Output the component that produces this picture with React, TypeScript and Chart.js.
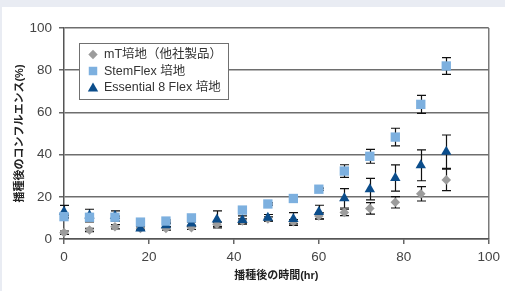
import React, { useEffect, useRef } from 'react';
import { Chart, registerables } from 'chart.js';

Chart.register(...registerables);

const times = [0, 6, 12, 18, 24, 30, 36, 42, 48, 54, 60, 66, 72, 78, 84, 90];
const mtValues = [3.0, 4.3, 5.8, 5.0, 5.0, 5.3, 7.0, 8.5, 9.5, 8.2, 10.9, 12.6, 14.5, 17.4, 21.4, 28.0];
const mtErrors = [0.8, 0.8, 1.0, 0.8, 0.8, 0.8, 1.0, 1.0, 1.0, 1.0, 1.5, 1.5, 2.7, 2.7, 3.4, 5.1];
const stemValues = [10.6, 10.3, 10.3, 8.0, 8.5, 10.0, null, 13.7, 16.6, 19.2, 23.6, 32.2, 39.2, 48.3, 63.8, 82.0];
const stemErrors = [0.5, 0.5, 0.5, 0.5, 0.5, 0.5, 0, 0.5, 0.5, 0.5, 0.5, 3.0, 3.3, 4.2, 4.3, 4.0];
const e8Values = [12.9, 11.1, 10.9, 5.0, 6.5, 7.3, 9.3, 9.0, 10.1, 9.5, 12.8, 19.3, 23.6, 28.9, 34.9, 41.4];
const e8Errors = [3.0, 3.0, 2.4, 0.8, 0.8, 0.8, 4.0, 2.0, 1.5, 3.0, 3.2, 4.6, 5.1, 6.2, 7.3, 7.9];
const seriesLabels = ['mT培地（他社製品）', 'StemFlex 培地', 'Essential 8 Flex 培地'];
const seriesColors = ['#9c9c9c', '#7db0df', '#0b4d8b'];
const xTitle = '播種後の時間(hr)';
const yTitle = '播種後のコンフルエンス(%)';

const FONT = '"Liberation Sans", "Noto Sans CJK JP", Arial, sans-serif';

function toPoints(vals: (number | null)[]) {
  return times.map((t, i) => ({ x: t, y: vals[i] }));
}

function markerPath(ctx: CanvasRenderingContext2D, style: string, x: number, y: number, r: number) {
  ctx.beginPath();
  if (style === 'rectRot') {
    ctx.moveTo(x, y - r);
    ctx.lineTo(x + r, y);
    ctx.lineTo(x, y + r);
    ctx.lineTo(x - r, y);
  } else if (style === 'rect') {
    const s = r * Math.SQRT1_2;
    ctx.rect(x - s, y - s, 2 * s, 2 * s);
  } else {
    ctx.moveTo(x, y - r);
    ctx.lineTo(x + r * Math.sin(Math.PI * 2 / 3), y - r * Math.cos(Math.PI * 2 / 3));
    ctx.lineTo(x - r * Math.sin(Math.PI * 2 / 3), y - r * Math.cos(Math.PI * 2 / 3));
  }
  ctx.closePath();
}

const errorBarPlugin = {
  id: 'errorBars',
  beforeDatasetsDraw(chart: any) {
    const ctx = chart.ctx as CanvasRenderingContext2D;
    const yScale = chart.scales.y;
    ctx.save();
    ctx.strokeStyle = '#111';
    ctx.lineWidth = 1.2;
    chart.data.datasets.forEach((ds: any, i: number) => {
      const meta = chart.getDatasetMeta(i);
      const errs: number[] = ds.errors || [];
      meta.data.forEach((el: any, j: number) => {
        const v = ds.data[j].y;
        const e = errs[j];
        if (v == null || !e) return;
        const x = Math.round(el.x) + 0.5;
        const top = yScale.getPixelForValue(v + e);
        const bot = yScale.getPixelForValue(v - e);
        ctx.beginPath();
        ctx.moveTo(x, top);
        ctx.lineTo(x, bot);
        ctx.moveTo(x - 4.5, top);
        ctx.lineTo(x + 4.5, top);
        ctx.moveTo(x - 4.5, bot);
        ctx.lineTo(x + 4.5, bot);
        ctx.stroke();
      });
    });
    ctx.restore();
  },
};

const legendPlugin = {
  id: 'boxLegend',
  afterDraw(chart: any) {
    const ctx = chart.ctx as CanvasRenderingContext2D;
    const bx = 79.5, by = 43.5, bw = 149, bh = 56;
    ctx.save();
    ctx.fillStyle = '#ffffff';
    ctx.fillRect(bx, by, bw, bh);
    ctx.strokeStyle = '#707070';
    ctx.lineWidth = 1;
    ctx.strokeRect(bx, by, bw, bh);
    const rows = [54.5, 71, 87.5];
    const styles = ['rectRot', 'rect', 'triangle'];
    const radii = [4.7, 6, 6];
    ctx.font = '12.5px ' + FONT;
    ctx.textBaseline = 'middle';
    ctx.textAlign = 'left';
    rows.forEach((ry, i) => {
      ctx.fillStyle = seriesColors[i];
      markerPath(ctx, styles[i], 93, i === 2 ? ry + 1 : ry, radii[i]);
      ctx.fill();
      ctx.fillStyle = '#333';
      ctx.fillText(seriesLabels[i], 104, ry + 0.5);
    });
    ctx.restore();
  },
};

export default function App() {
  const canvasRef = useRef<HTMLCanvasElement | null>(null);

  useEffect(() => {
    if (!canvasRef.current) return;
    const chart = new Chart(canvasRef.current, {
      type: 'scatter',
      data: {
        datasets: [
          {
            label: seriesLabels[0],
            data: toPoints(mtValues),
            errors: mtErrors,
            pointStyle: 'rectRot',
            pointRadius: 4.8,
            backgroundColor: seriesColors[0],
            borderColor: seriesColors[0],
            borderWidth: 0,
            order: 2,
            clip: false,
          } as any,
          {
            label: seriesLabels[1],
            data: toPoints(stemValues),
            errors: stemErrors,
            pointStyle: 'rect',
            pointRadius: 6.6,
            backgroundColor: seriesColors[1],
            borderColor: seriesColors[1],
            borderWidth: 0,
            order: 0,
            clip: false,
          } as any,
          {
            label: seriesLabels[2],
            data: toPoints(e8Values),
            errors: e8Errors,
            pointStyle: 'triangle',
            pointRadius: 6,
            backgroundColor: seriesColors[2],
            borderColor: seriesColors[2],
            borderWidth: 0,
            order: 1,
            clip: false,
          } as any,
        ],
      },
      options: {
        responsive: false,
        animation: false,
        devicePixelRatio: 1,
        layout: { padding: { left: 0, right: 11, top: 28, bottom: 0 } },
        plugins: {
          legend: { display: false },
          tooltip: { enabled: false },
        },
        scales: {
          x: {
            type: 'linear',
            min: 0,
            max: 100,
            ticks: {
              stepSize: 20,
              color: '#444',
              font: { family: FONT, size: 13.5 },
              padding: 5,
              maxRotation: 0,
            },
            grid: {
              drawOnChartArea: true,
              color: (c: any) => (c.tick && c.tick.value === 100 ? '#7a7a7a' : 'rgba(0,0,0,0)'),
              tickColor: '#666',
              tickLength: 5,
              lineWidth: 1.5,
            },
            border: { color: '#555', width: 1.5 },
            title: {
              display: true,
              text: xTitle,
              color: '#222',
              font: { family: FONT, size: 11, weight: 'bold' },
              padding: { top: 0, bottom: 8.5 },
            },
            afterFit: (s: any) => {
              s.height = 52;
            },
          },
          y: {
            type: 'linear',
            min: 0,
            max: 100,
            ticks: {
              stepSize: 20,
              color: '#444',
              font: { family: FONT, size: 13.5 },
              padding: 7,
            },
            grid: {
              color: '#6e6e6e',
              tickColor: '#666',
              tickLength: 5,
              lineWidth: 1.5,
            },
            border: { color: '#555', width: 1.5 },
            title: {
              display: true,
              text: yTitle,
              color: '#222',
              font: { family: FONT, size: 11, weight: 'bold' },
              padding: { top: 13.4, bottom: 0 },
            },
            afterFit: (s: any) => {
              s.width = 64;
            },
          },
        },
      } as any,
      plugins: [errorBarPlugin, legendPlugin],
    });
    return () => chart.destroy();
  }, []);

  return (
    <div
      style={{
        position: 'fixed',
        left: 0,
        top: 0,
        width: 505,
        height: 291,
        background: '#e9ecf3',
        overflow: 'hidden',
      }}
    >
      <div
        style={{
          position: 'absolute',
          left: 2,
          top: 7,
          right: 0,
          bottom: 0,
          background: '#ffffff',
        }}
      />
      <canvas
        ref={canvasRef}
        width={505}
        height={291}
        style={{ position: 'absolute', left: 0, top: 0, width: 505, height: 291 }}
      />
    </div>
  );
}
